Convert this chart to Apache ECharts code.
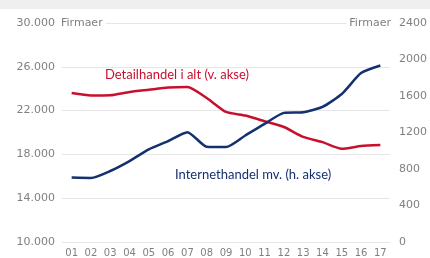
<!DOCTYPE html>
<html><head><meta charset="utf-8">
<script src="https://cdn.jsdelivr.net/npm/echarts@6/dist/echarts.min.js"></script>
<style>html,body{margin:0;padding:0;background:#fff}#c{width:430px;height:258px}</style>
</head><body><div id="c"></div>
<script>
var categories = ['01','02','03','04','05','06','07','08','09','10','11','12','13','14','15','16','17'];
var detailhandel = [23600, 23380, 23400, 23700, 23900, 24100, 24150, 23150, 21880, 21550, 21030, 20500, 19600, 19120, 18520, 18760, 18850];
var internethandel = [706, 702, 778, 887, 1015, 1105, 1203, 1044, 1040, 1167, 1295, 1415, 1422, 1480, 1622, 1851, 1934];
var leftName = 'Firmaer';
var rightName = 'Firmaer';
var redLabel = 'Detailhandel i alt (v. akse)';
var blueLabel = 'Internethandel mv. (h. akse)';

var RED = '#c8102e', BLUE = '#14306e', GRAY = '#808080';
var AFONT = '"DejaVu Sans", sans-serif';
var LFONT = 'Lato, "Open Sans", sans-serif';
var chart = echarts.init(document.getElementById('c'), null, {renderer:'canvas'});
chart.setOption({
  animation: false,
  backgroundColor: '#fff',
  grid: {left: 62, right: 37, top: 23, bottom: 15},
  xAxis: {
    type: 'category', data: categories, boundaryGap: true,
    axisLine: {show: false}, axisTick: {show: false},
    axisLabel: {color: GRAY, fontSize: 10, fontFamily: AFONT, margin: 6, interval: 0}
  },
  yAxis: [{
    type: 'value', min: 10000, max: 30000, interval: 4000, position: 'left',
    axisLine: {show: false}, axisTick: {show: false},
    splitLine: {lineStyle: {color: '#e6e6e6', width: 1}},
    axisLabel: {color: GRAY, fontSize: 11, fontFamily: AFONT, margin: 7,
      formatter: function(v){ return String(v).replace(/\B(?=(\d{3})+(?!\d))/g, '.'); }}
  },{
    type: 'value', min: 0, max: 2400, interval: 400, position: 'right',
    axisLine: {show: false}, axisTick: {show: false}, splitLine: {show: false},
    axisLabel: {color: GRAY, fontSize: 11, fontFamily: AFONT, margin: 9,
      formatter: function(v){ return String(v); }}
  }],
  series: [{
    type: 'line', yAxisIndex: 0, data: detailhandel, symbol: 'none', smooth: 0.2,
    lineStyle: {color: RED, width: 2.5}
  },{
    type: 'line', yAxisIndex: 1, data: internethandel, symbol: 'none', smooth: 0.2,
    lineStyle: {color: BLUE, width: 2.5}
  }],
  graphic: [
    {type: 'rect', left: 0, top: 0, shape: {width: 430, height: 9}, style: {fill: '#efefef'}, z: -1},
    {type: 'text', x: 59, y: 23, z: 10, style: {text: leftName, fill: GRAY, font: '11px ' + AFONT,
      verticalAlign: 'middle', align: 'left', backgroundColor: '#fff', padding: [1, 3, 1, 2]}},
    {type: 'text', x: 393, y: 23, z: 10, style: {text: rightName, fill: GRAY, font: '11px ' + AFONT,
      verticalAlign: 'middle', align: 'right', backgroundColor: '#fff', padding: [1, 2, 1, 3]}},
    {type: 'text', x: 105, y: 75, style: {text: redLabel, fill: RED, font: '13px ' + LFONT, verticalAlign: 'middle'}},
    {type: 'text', x: 175, y: 175, style: {text: blueLabel, fill: BLUE, font: '13px ' + LFONT, verticalAlign: 'middle'}}
  ]
});
</script></body></html>
